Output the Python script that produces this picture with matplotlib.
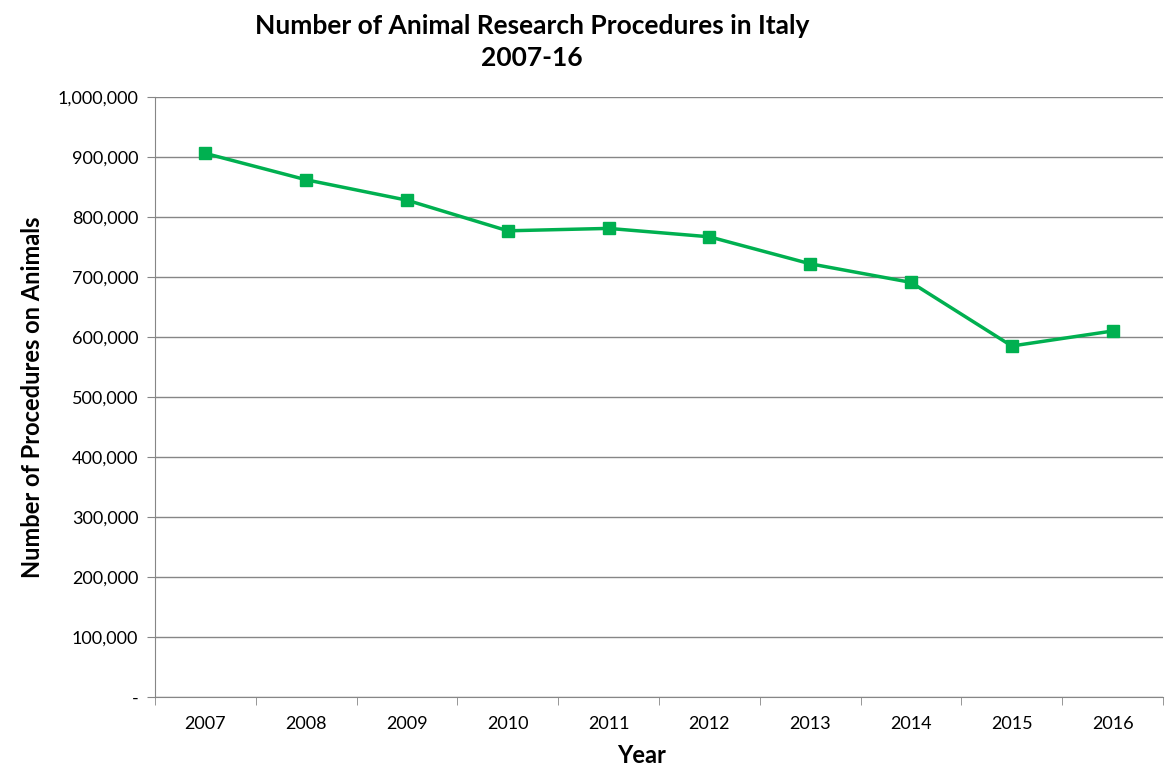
import matplotlib.pyplot as plt
from matplotlib.ticker import FuncFormatter

years = ['2007', '2008', '2009', '2010', '2011', '2012', '2013', '2014', '2015', '2016']
procedures = [906000, 862000, 828000, 777000, 781000, 767000, 722000, 691000, 585000, 610000]

plt.rcParams['font.family'] = ['Lato', 'DejaVu Sans']

fig = plt.figure(figsize=(11.7, 7.82), dpi=100)
ax = fig.add_axes([155 / 1170, (782 - 697) / 782, (1163 - 155) / 1170, 600 / 782])

x = list(range(len(years)))
ax.plot(x, procedures, color='#00B050', linewidth=2.5, marker='s', markersize=9, zorder=3)

ax.set_xlim(-0.5, len(years) - 0.5)
ax.set_ylim(0, 1000000)
ax.set_yticks(range(0, 1000001, 100000))
ax.yaxis.set_major_formatter(FuncFormatter(lambda v, p: '-' if v == 0 else f'{int(v):,}'))
ax.set_xticks(x)
ax.set_xticklabels(years)
ax.set_xticks([i - 0.5 for i in range(len(years) + 1)], minor=True)
ax.tick_params(axis='x', which='major', length=0, pad=14, labelsize=13)
ax.tick_params(axis='x', which='minor', length=6, color='#868686')
ax.tick_params(axis='y', length=6, color='#868686', labelsize=13, pad=6)

ax.grid(axis='y', color='#868686', linewidth=1)
ax.set_axisbelow(True)
for s in ['top', 'right']:
    ax.spines[s].set_visible(False)
for s in ['left', 'bottom']:
    ax.spines[s].set_color('#868686')

ax.set_ylabel('Number of Procedures on Animals', fontsize=17, fontweight='bold', labelpad=10)
ax.set_xlabel('Year', fontsize=17, fontweight='bold')
ax.xaxis.set_label_coords((642 - 155) / (1163 - 155), -47 / 600)
fig.text(532 / 1170, 1 - 42 / 782, 'Number of Animal Research Procedures in Italy\n2007-16',
         ha='center', va='center', fontsize=19, fontweight='bold', linespacing=1.45)

fig.savefig('out.png', dpi=100)
